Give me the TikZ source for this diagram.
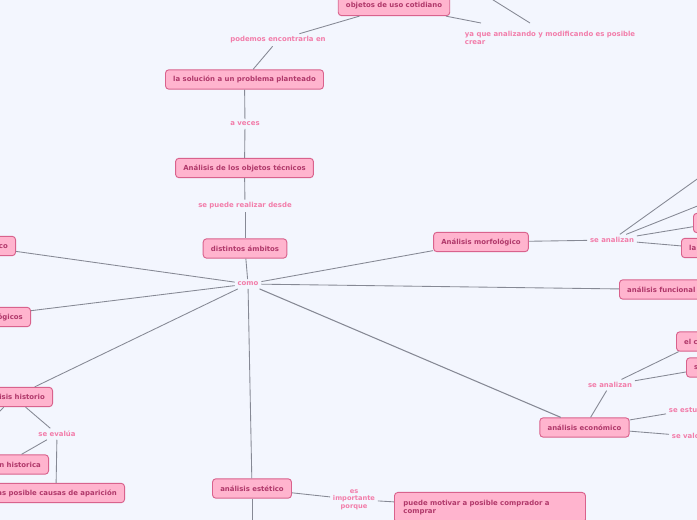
\documentclass[tikz,border=0pt]{standalone}
\usepackage{fontspec}
\setmainfont{DejaVu Sans}
\definecolor{bg}{HTML}{F3F6FE}
\definecolor{boxfill}{HTML}{FFB4CE}
\definecolor{boxborder}{HTML}{D9628D}
\definecolor{boxtext}{HTML}{B0386A}
\definecolor{labtext}{HTML}{F27DAA}
\definecolor{linegray}{HTML}{868995}
\tikzset{
  box/.style={draw=boxborder, fill=boxfill, rounded corners=2.5pt, text=boxtext,
    font=\fontsize{5.2pt}{6pt}\selectfont\bfseries, minimum height=14.5pt,
    inner xsep=5.8pt, line width=0.7pt},
  lab/.style={text=labtext, font=\fontsize{5.2pt}{6pt}\selectfont\bfseries, inner sep=2pt},
  conn/.style={draw=linegray, line width=0.65pt}
}
\begin{document}
\begin{tikzpicture}[x=0.75pt, y=-0.75pt]
\fill[bg] (0,0) rectangle (697,520);
\useasboundingbox (0,0) rectangle (697,520);
\clip (0,0) rectangle (697,520);
% top chain
\node[box] (obj) at (394,6) {objetos de uso cotidiano};
\node[lab] (pod) at (278,40) {podemos encontrarla en};
\node[lab, align=left, anchor=north west] (ya) at (462,28) {ya que analizando y modificando es posible\\crear};
\coordinate (yain) at (481,23);
\coordinate (yain2) at (530,23);
\coordinate (yatop) at (490,-2);
\node[box] (sol) at (244.5,79.5) {la solución a un problema planteado};
\node[lab] (ave) at (245,124) {a veces};
\node[box] (tec) at (244.5,168) {Análisis de los objetos técnicos};
\node[lab] (pue) at (245,206) {se puede realizar desde};
\node[box] (amb) at (245,248.5) {distintos ámbitos};
\node[lab] (como) at (248,284) {como};
% left
\node[box, anchor=east] (l1) at (16,246) {análisis técnico};
\node[box, anchor=east] (l2) at (31,317) {aspectos tecnológicos};
\node[box, anchor=east] (l3) at (53,397) {análisis historio};
\coordinate (l3off) at (-4,415);
\node[lab] (eva) at (57,434) {se evalúa};
\node[box, anchor=east] (l4) at (49,464.5) {evolución historica};
\node[box, anchor=east] (l5) at (125,493) {las posible causas de aparición};
% right
\node[box] (mor) at (481,242) {Análisis morfológico};
\node[lab] (san1) at (612,240) {se analizan};
\coordinate (m1) at (700,177);
\coordinate (m2) at (700,205);
\node[box, anchor=west] (m3) at (693,223) {el color};
\node[box, anchor=west] (m4) at (681,248) {la forma};
\node[box, anchor=west] (fun) at (619,289.5) {análisis funcional};
\node[box] (eco) at (584.5,427.5) {análisis económico};
\node[lab] (san2) at (610,385) {se analizan};
\node[box, anchor=west] (e1) at (676,341.5) {el costo};
\node[box, anchor=west] (e2) at (686,367.5) {su precio};
\node[lab, anchor=west] (e3) at (666,410) {se estudia};
\node[lab, anchor=west] (e4) at (669,436) {se valora};
% bottom
\node[box] (est) at (252,488.5) {análisis estético};
\node[lab, align=center, font=\fontsize{5pt}{5.6pt}\selectfont\bfseries] (imp) at (354,499.5) {es\\importante\\porque};
\node[box, align=left, anchor=north west, text width=129.75pt, inner xsep=6.75pt, inner ysep=5.5pt,
  font=\fontsize{5.2pt}{6.6pt}\selectfont\bfseries] (mot) at (394,492) {puede motivar a posible comprador a\\comprar};
\coordinate (estbot) at (252,524);
% connectors
\draw[conn] (sol) -- (pod);
\draw[conn] (pod) -- (obj);
\draw[conn] (obj) -- (yain);
\draw[conn] (yatop) -- (yain2);
\draw[conn] (sol) -- (ave);
\draw[conn] (ave) -- (tec);
\draw[conn] (tec) -- (pue);
\draw[conn] (pue) -- (amb);
\draw[conn] (amb) -- (como);
\draw[conn] (como) -- (l1);
\draw[conn] (como) -- (l2);
\draw[conn] (como) -- (l3);
\draw[conn] (l3) -- (eva);
\draw[conn] (l3) -- (l3off);
\draw[conn] (eva) -- (l4);
\draw[conn] (eva) -- (l5);
\draw[conn] (como) -- (mor);
\draw[conn] (mor) -- (san1);
\draw[conn] (san1) -- (m1);
\draw[conn] (san1) -- (m2);
\draw[conn] (san1) -- (m3);
\draw[conn] (san1) -- (m4);
\draw[conn] (como) -- (fun);
\draw[conn, line width=0.8pt] (como) -- (eco);
\draw[conn] (eco) -- (san2);
\draw[conn] (san2) -- (e1);
\draw[conn] (san2) -- (e2);
\draw[conn] (eco) -- (e3);
\draw[conn] (eco) -- (e4);
\draw[conn] (como) -- (est);
\draw[conn] (est) -- (imp);
\draw[conn] (imp) -- (mot);
\draw[conn] (est) -- (estbot);
\end{tikzpicture}
\end{document}
